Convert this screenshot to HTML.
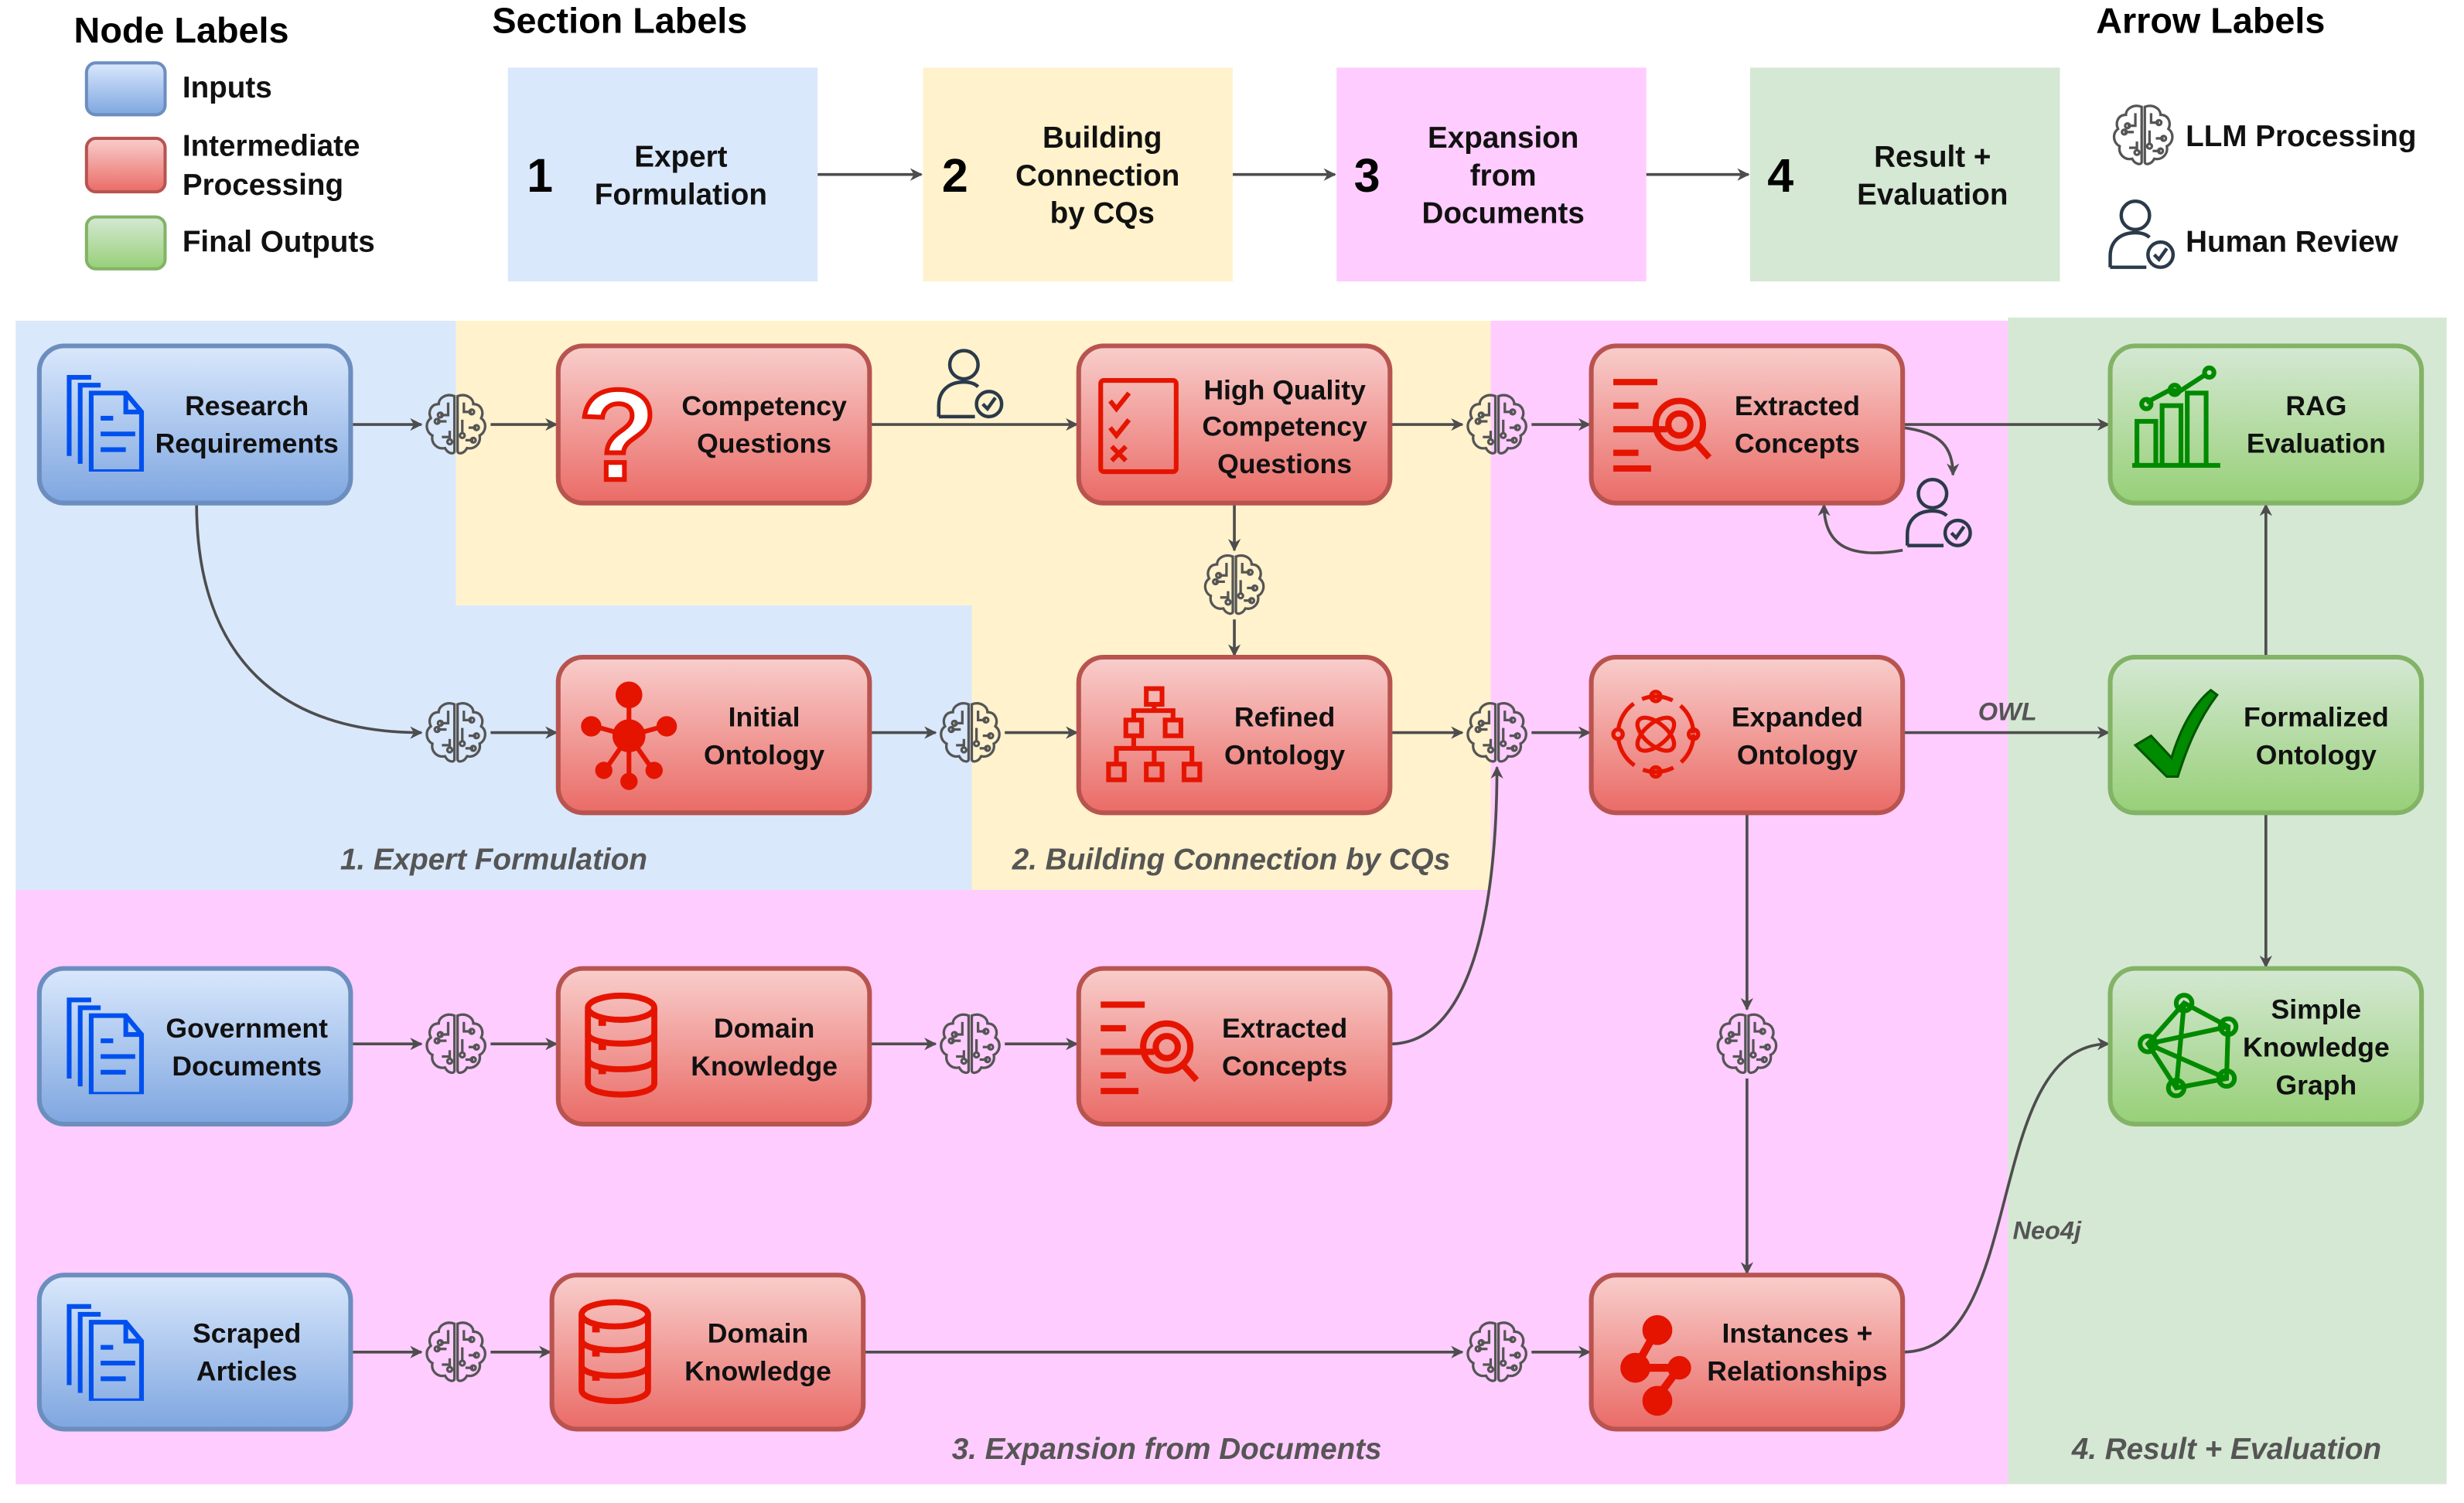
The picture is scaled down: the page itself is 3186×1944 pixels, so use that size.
<!DOCTYPE html>
<html><head><meta charset="utf-8"><style>
html,body{margin:0;padding:0;background:#fff}
svg{display:block}
text{font-family:"Liberation Sans",Arial,sans-serif}
.n{font-size:17.5px;font-weight:bold;fill:#111;text-anchor:middle}
.leg{font-size:19px;font-weight:bold;fill:#111}
.ttl{font-size:23px;font-weight:bold;fill:#000}
.sec{font-size:19px;font-weight:bold;fill:#111;text-anchor:middle}
.num{font-size:30px;font-weight:bold;fill:#000}
.it{font-size:19px;font-weight:bold;font-style:italic;fill:#555;text-anchor:middle}
.e{fill:none;stroke:#4d4d4d;stroke-width:1.8}
.ic{fill:none;stroke-width:3}
</style></head><body>
<svg width="3186" height="1944" viewBox="0 0 1567 956" preserveAspectRatio="none" xmlns="http://www.w3.org/2000/svg">
<defs>
<linearGradient id="gb" x1="0" y1="0" x2="0" y2="1"><stop offset="0" stop-color="#dae8fc"/><stop offset="1" stop-color="#7ea6e0"/></linearGradient>
<linearGradient id="gr" x1="0" y1="0" x2="0" y2="1"><stop offset="0" stop-color="#f8cecc"/><stop offset="1" stop-color="#ea6b66"/></linearGradient>
<linearGradient id="gg" x1="0" y1="0" x2="0" y2="1"><stop offset="0" stop-color="#d5e8d4"/><stop offset="1" stop-color="#97d077"/></linearGradient>
<marker id="ar" viewBox="0 0 10 10" refX="9" refY="5" markerWidth="8" markerHeight="8" orient="auto" markerUnits="userSpaceOnUse"><path d="M0,0 L10,5 L0,10 L3,5 Z" fill="#4d4d4d"/></marker>
<symbol id="brain" viewBox="-21 -21 42 42">
<g fill="none" stroke="#555" stroke-width="1.6">
<path d="M-1,-18 C-6,-20 -11,-17 -11,-13 C-16,-13 -18,-8 -16,-4 C-20,-1 -19,5 -15,7 C-16,12 -12,16 -7,15 C-5,19 -1,19 -1,17 Z"/>
<path d="M1,-18 C6,-20 11,-17 11,-13 C16,-13 18,-8 16,-4 C20,-1 19,5 15,7 C16,12 12,16 7,15 C5,19 1,19 1,17 Z"/>
<path d="M-5,-14 V-6 H-10 M-6,-2 H-12 M-4,4 V10 M-9,8 H-4 M5,-14 V-8 H10 M4,-3 V6 M8,2 H13 M6,10 H11"/>
<circle cx="-10" cy="-6" r="1.5"/><circle cx="-12" cy="-2" r="1.5"/><circle cx="-4" cy="11" r="1.5"/><circle cx="10" cy="-8" r="1.5"/><circle cx="13" cy="2" r="1.5"/><circle cx="11" cy="10" r="1.5"/><circle cx="4" cy="7" r="1.5"/>
</g></symbol>
<symbol id="person" viewBox="0 0 46 48">
<g fill="none" stroke="#2b3a4a" stroke-width="2.2">
<circle cx="19" cy="12" r="9"/>
<path d="M3,45 V38 C3,28 10,23 19,23 C23,23 26,24 28,26"/>
<path d="M3,45 H26"/>
<circle cx="35" cy="37" r="8"/><path d="M31,37 L34,40 L39,33"/>
</g></symbol>
<symbol id="docs" viewBox="0 0 54 62"><g fill="none" stroke="#0050ef" stroke-width="3">
<path d="M2,52 V2 H16"/><path d="M9,57 V7 H22"/><path d="M16,62 V12 H38 L48,24 V62 Z"/><path d="M38,12 V24 H48"/><path d="M22,28 H30 M22,38 H44 M22,48 H38"/></g></symbol>
<symbol id="search" viewBox="0 0 76 60"><g fill="none" stroke="#e51400" stroke-width="4">
<path d="M2,3 H30 M2,18 H18 M2,33 H36 M2,48 H18 M2,58 H26"/>
<circle cx="44" cy="30" r="15"/><circle cx="44" cy="30" r="7"/><path d="M54,41 L63,51"/></g></symbol>
<symbol id="db" viewBox="0 0 50 70"><g fill="none" stroke="#e51400" stroke-width="4">
<ellipse cx="25" cy="10" rx="22" ry="8"/><path d="M3,10 V60 C3,70 47,70 47,60 V10"/><path d="M3,27 C3,36 47,36 47,27 M3,44 C3,53 47,53 47,44"/><path d="M10,36 H15 M10,52 H15 M10,20 H15"/></g></symbol>
</defs>

<!-- Legend -->
<text class="ttl" x="47" y="27">Node Labels</text>
<rect x="55" y="40" width="50" height="33" rx="6" fill="url(#gb)" stroke="#6c8ebf" stroke-width="2"/>
<text class="leg" x="116" y="62">Inputs</text>
<rect x="55" y="88" width="50" height="34" rx="6" fill="url(#gr)" stroke="#b85450" stroke-width="2"/>
<text class="leg" x="116" y="99">Intermediate</text><text class="leg" x="116" y="124">Processing</text>
<rect x="55" y="138" width="50" height="33" rx="6" fill="url(#gg)" stroke="#82b366" stroke-width="2"/>
<text class="leg" x="116" y="160">Final Outputs</text>

<text class="ttl" x="313" y="21">Section Labels</text>
<rect x="323" y="43" width="197" height="136" fill="#dae8fc"/>
<text class="num" x="335" y="122">1</text><text class="sec" x="433" y="106">Expert</text><text class="sec" x="433" y="130">Formulation</text>
<rect x="587" y="43" width="197" height="136" fill="#fff2cc"/>
<text class="num" x="599" y="122">2</text><text class="sec" x="701" y="94">Building</text><text class="sec" x="698" y="118">Connection</text><text class="sec" x="701" y="142">by CQs</text>
<rect x="850" y="43" width="197" height="136" fill="#ffccff"/>
<text class="num" x="861" y="122">3</text><text class="sec" x="956" y="94">Expansion</text><text class="sec" x="956" y="118">from</text><text class="sec" x="956" y="142">Documents</text>
<rect x="1113" y="43" width="197" height="136" fill="#d5e8d4"/>
<text class="num" x="1124" y="122">4</text><text class="sec" x="1229" y="106">Result +</text><text class="sec" x="1229" y="130">Evaluation</text>
<path class="e" d="M520,111 H586" marker-end="url(#ar)"/>
<path class="e" d="M784,111 H849" marker-end="url(#ar)"/>
<path class="e" d="M1047,111 H1112" marker-end="url(#ar)"/>

<text class="ttl" x="1333" y="21">Arrow Labels</text>
<use href="#brain" x="1342" y="65" width="42" height="42"/>
<text class="leg" x="1390" y="93">LLM Processing</text>
<use href="#person" x="1339" y="125" width="46" height="48"/>
<text class="leg" x="1390" y="160">Human Review</text>

<!-- Background regions -->
<path d="M10,204 H290 V385 H618 V566 H10 Z" fill="#dae8fc"/>
<path d="M290,204 H948 V566 H618 V385 H290 Z" fill="#fff2cc"/>
<path d="M948,204 H1277 V944 H10 V566 H948 Z" fill="#ffccff"/>
<rect x="1277" y="202" width="279" height="742" fill="#d5e8d4"/>
<text class="it" x="314" y="553">1. Expert Formulation</text>
<text class="it" x="783" y="553">2. Building Connection by CQs</text>
<text class="it" x="742" y="928">3. Expansion from Documents</text>
<text class="it" x="1416" y="928">4. Result + Evaluation</text>

<!-- Edges -->
<g class="e">
<path d="M223,270 H268" marker-end="url(#ar)"/><path d="M312,270 H354" marker-end="url(#ar)"/>
<path d="M553,270 H685" marker-end="url(#ar)"/>
<path d="M884,270 H930" marker-end="url(#ar)"/><path d="M974,270 H1011" marker-end="url(#ar)"/>
<path d="M1210,270 H1341" marker-end="url(#ar)"/>
<path d="M1210,272 C1235,275 1242,285 1242,302" marker-end="url(#ar)"/>
<path d="M1210,350 C1180,355 1160,350 1160,321" marker-end="url(#ar)"/>
<path d="M785,320 V350" marker-end="url(#ar)"/><path d="M785,394 V417" marker-end="url(#ar)"/>
<path d="M125,320 C125,420 180,466 268,466" marker-end="url(#ar)"/>
<path d="M312,466 H354" marker-end="url(#ar)"/>
<path d="M553,466 H595" marker-end="url(#ar)"/><path d="M639,466 H685" marker-end="url(#ar)"/>
<path d="M884,466 H930" marker-end="url(#ar)"/><path d="M974,466 H1011" marker-end="url(#ar)"/>
<path d="M1210,466 H1341" marker-end="url(#ar)"/>
<path d="M1441,418 V321" marker-end="url(#ar)"/>
<path d="M1441,517 V615" marker-end="url(#ar)"/>
<path d="M1111,517 V642" marker-end="url(#ar)"/><path d="M1111,686 V810" marker-end="url(#ar)"/>
<path d="M223,664 H268" marker-end="url(#ar)"/><path d="M312,664 H354" marker-end="url(#ar)"/>
<path d="M553,664 H595" marker-end="url(#ar)"/><path d="M639,664 H685" marker-end="url(#ar)"/>
<path d="M884,664 C935,664 952,580 952,488" marker-end="url(#ar)"/>
<path d="M223,860 H268" marker-end="url(#ar)"/><path d="M312,860 H350" marker-end="url(#ar)"/>
<path d="M549,860 H930" marker-end="url(#ar)"/><path d="M974,860 H1011" marker-end="url(#ar)"/>
<path d="M1210,860 C1290,860 1260,664 1341,664" marker-end="url(#ar)"/>
</g>
<text x="1258" y="458" style="font-size:16px;font-weight:bold;font-style:italic;fill:#555">OWL</text>
<text x="1280" y="788" style="font-size:16px;font-weight:bold;font-style:italic;fill:#555">Neo4j</text>

<!-- Brains & persons -->
<use href="#brain" x="269" y="249" width="42" height="42"/>
<use href="#brain" x="931" y="249" width="42" height="42"/>
<use href="#brain" x="764" y="351" width="42" height="42"/>
<use href="#brain" x="269" y="445" width="42" height="42"/>
<use href="#brain" x="596" y="445" width="42" height="42"/>
<use href="#brain" x="931" y="445" width="42" height="42"/>
<use href="#brain" x="269" y="643" width="42" height="42"/>
<use href="#brain" x="596" y="643" width="42" height="42"/>
<use href="#brain" x="1090" y="643" width="42" height="42"/>
<use href="#brain" x="269" y="839" width="42" height="42"/>
<use href="#brain" x="931" y="839" width="42" height="42"/>
<use href="#person" x="594" y="220" width="46" height="48"/>
<use href="#person" x="1210" y="302" width="46" height="48"/>

<!-- Nodes -->
<g stroke-width="3">
<rect x="25" y="220" width="198" height="100" rx="16" fill="url(#gb)" stroke="#6c8ebf"/>
<rect x="355" y="220" width="198" height="100" rx="16" fill="url(#gr)" stroke="#b85450"/>
<rect x="686" y="220" width="198" height="100" rx="16" fill="url(#gr)" stroke="#b85450"/>
<rect x="1012" y="220" width="198" height="100" rx="16" fill="url(#gr)" stroke="#b85450"/>
<rect x="1342" y="220" width="198" height="100" rx="16" fill="url(#gg)" stroke="#82b366"/>
<rect x="355" y="418" width="198" height="99" rx="16" fill="url(#gr)" stroke="#b85450"/>
<rect x="686" y="418" width="198" height="99" rx="16" fill="url(#gr)" stroke="#b85450"/>
<rect x="1012" y="418" width="198" height="99" rx="16" fill="url(#gr)" stroke="#b85450"/>
<rect x="1342" y="418" width="198" height="99" rx="16" fill="url(#gg)" stroke="#82b366"/>
<rect x="25" y="616" width="198" height="99" rx="16" fill="url(#gb)" stroke="#6c8ebf"/>
<rect x="355" y="616" width="198" height="99" rx="16" fill="url(#gr)" stroke="#b85450"/>
<rect x="686" y="616" width="198" height="99" rx="16" fill="url(#gr)" stroke="#b85450"/>
<rect x="1342" y="616" width="198" height="99" rx="16" fill="url(#gg)" stroke="#82b366"/>
<rect x="25" y="811" width="198" height="98" rx="16" fill="url(#gb)" stroke="#6c8ebf"/>
<rect x="351" y="811" width="198" height="98" rx="16" fill="url(#gr)" stroke="#b85450"/>
<rect x="1012" y="811" width="198" height="98" rx="16" fill="url(#gr)" stroke="#b85450"/>
</g>

<!-- Icons -->
<use href="#docs" x="42" y="238" width="54" height="62"/>
<use href="#docs" x="42" y="634" width="54" height="62"/>
<use href="#docs" x="42" y="829" width="54" height="62"/>
<text x="368" y="305" style="font-size:82px;font-weight:bold;fill:#fff;stroke:#e51400;stroke-width:3;font-family:'Liberation Sans',sans-serif">?</text>
<g class="ic" stroke="#e51400">
<rect x="700" y="242" width="48" height="58" rx="2"/>
<path d="M706,255 L710,260 L718,250 M706,272 L710,277 L718,267 M707,284 L716,293 M716,284 L707,293"/>
</g>
<use href="#search" x="1024" y="240" width="76" height="60"/>
<use href="#search" x="698" y="636" width="76" height="60"/>
<g stroke="#e51400" stroke-width="3" fill="#e51400">
<path d="M400,468 V445 M400,468 L378,462 M400,468 L422,462 M400,468 L386,488 M400,468 L414,488 M400,468 V494"/>
<circle cx="400" cy="442" r="7"/><circle cx="376" cy="462" r="5"/><circle cx="424" cy="462" r="5"/><circle cx="384" cy="490" r="4"/><circle cx="416" cy="490" r="4"/><circle cx="400" cy="468" r="9"/><circle cx="400" cy="497" r="4"/>
</g>
<g fill="none" stroke="#e51400" stroke-width="3">
<rect x="729" y="438" width="10" height="10"/><rect x="716" y="458" width="10" height="10"/><rect x="741" y="458" width="10" height="10"/>
<rect x="705" y="486" width="10" height="10"/><rect x="729" y="486" width="10" height="10"/><rect x="753" y="486" width="10" height="10"/>
<path d="M734,448 V452 H721 V458 M734,452 H746 V458 M721,468 V476 H710 V486 M721,476 H758 V486 M734,476 V486"/>
</g>
<g fill="none" stroke="#e51400" stroke-width="2.6">
<circle cx="1053" cy="467" r="24" stroke-dasharray="20 6"/>
<ellipse cx="1053" cy="467" rx="14" ry="7" transform="rotate(40 1053 467)"/>
<ellipse cx="1053" cy="467" rx="14" ry="7" transform="rotate(-40 1053 467)"/>
<circle cx="1053" cy="443" r="3"/><circle cx="1053" cy="491" r="3"/><circle cx="1029" cy="467" r="3"/><circle cx="1077" cy="467" r="3"/>
</g>
<use href="#db" x="371" y="630" width="48" height="70"/>
<use href="#db" x="367" y="825" width="48" height="70"/>
<g stroke="#e51400" stroke-width="5" fill="#e51400">
<path d="M1053,847 L1040,870 H1068 L1053,890" fill="none"/>
<circle cx="1054" cy="846" r="7"/><circle cx="1040" cy="870" r="7"/><circle cx="1068" cy="870" r="5"/><circle cx="1054" cy="891" r="7"/>
</g>
<g fill="none" stroke="#008a00" stroke-width="3">
<path d="M1356,296 H1412"/><rect x="1359" y="268" width="12" height="28"/><rect x="1375" y="258" width="12" height="38"/><rect x="1391" y="250" width="12" height="46"/>
<path d="M1365,256 L1380,248 L1386,249 L1403,238"/><circle cx="1365" cy="257" r="3"/><circle cx="1383" cy="248" r="3"/><circle cx="1405" cy="237" r="3"/>
</g>
<path d="M1358,474 L1368,468 L1381,482 C1387,462 1396,447 1406,439 L1410,442 C1398,458 1391,475 1385,494 L1378,494 Z" fill="#008a00" stroke="#005700" stroke-width="1.5"/>
<g fill="none" stroke="#008a00" stroke-width="3">
<path d="M1389,638 L1366,664 L1384,692 L1416,686 L1417,653 Z M1389,638 L1384,692 M1366,664 L1417,653 M1366,664 L1416,686"/>
<circle cx="1389" cy="638" r="5"/><circle cx="1366" cy="664" r="5"/><circle cx="1384" cy="692" r="5"/><circle cx="1416" cy="686" r="5"/><circle cx="1417" cy="653" r="5"/>
</g>

<!-- Node labels -->
<text class="n" x="157" y="264">Research</text><text class="n" x="157" y="288">Requirements</text>
<text class="n" x="486" y="264">Competency</text><text class="n" x="486" y="288">Questions</text>
<text class="n" x="817" y="254">High Quality</text><text class="n" x="817" y="277">Competency</text><text class="n" x="817" y="301">Questions</text>
<text class="n" x="1143" y="264">Extracted</text><text class="n" x="1143" y="288">Concepts</text>
<text class="n" x="1473" y="264">RAG</text><text class="n" x="1473" y="288">Evaluation</text>
<text class="n" x="486" y="462">Initial</text><text class="n" x="486" y="486">Ontology</text>
<text class="n" x="817" y="462">Refined</text><text class="n" x="817" y="486">Ontology</text>
<text class="n" x="1143" y="462">Expanded</text><text class="n" x="1143" y="486">Ontology</text>
<text class="n" x="1473" y="462">Formalized</text><text class="n" x="1473" y="486">Ontology</text>
<text class="n" x="157" y="660">Government</text><text class="n" x="157" y="684">Documents</text>
<text class="n" x="486" y="660">Domain</text><text class="n" x="486" y="684">Knowledge</text>
<text class="n" x="817" y="660">Extracted</text><text class="n" x="817" y="684">Concepts</text>
<text class="n" x="1473" y="648">Simple</text><text class="n" x="1473" y="672">Knowledge</text><text class="n" x="1473" y="696">Graph</text>
<text class="n" x="157" y="854">Scraped</text><text class="n" x="157" y="878">Articles</text>
<text class="n" x="482" y="854">Domain</text><text class="n" x="482" y="878">Knowledge</text>
<text class="n" x="1143" y="854">Instances +</text><text class="n" x="1143" y="878">Relationships</text>
</svg>
</body></html>
